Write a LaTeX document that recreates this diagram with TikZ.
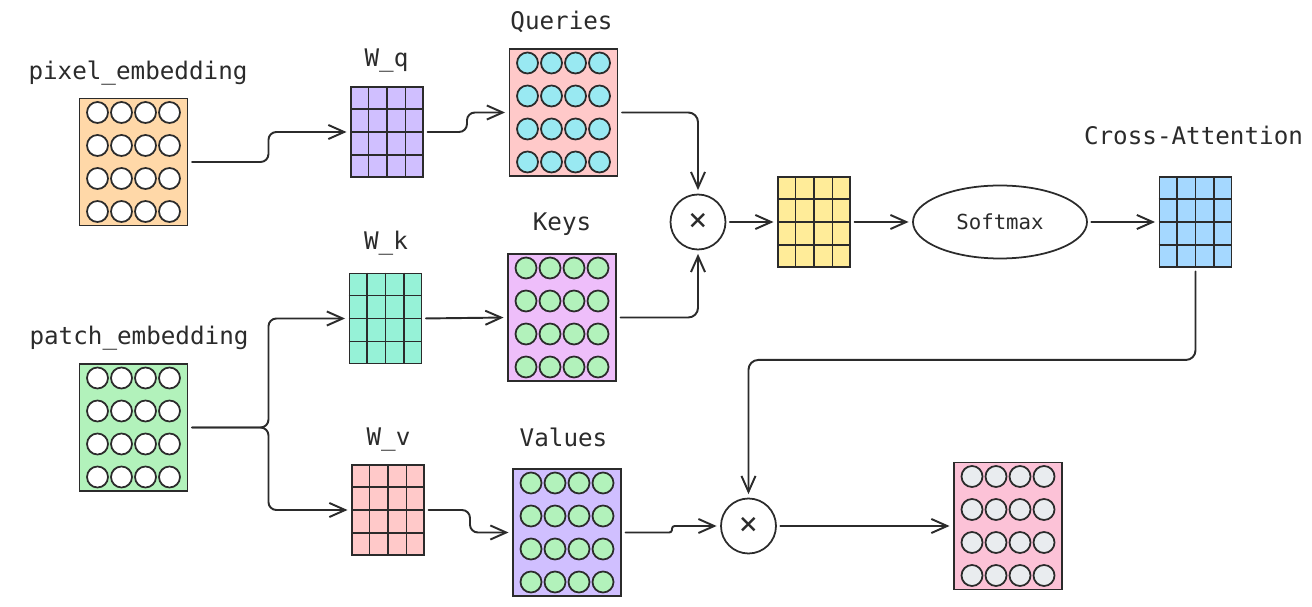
\documentclass[tikz,border=0pt]{standalone}
\usepackage{fontspec}
\setmonofont{DejaVu Sans Mono}
\usetikzlibrary{arrows.meta, positioning, calc, shapes.geometric}

\definecolor{ink}{HTML}{2B2B2B}
\definecolor{peach}{HTML}{FFD8A8}
\definecolor{mint}{HTML}{B2F2BB}
\definecolor{lilac}{HTML}{D0BFFF}
\definecolor{teal}{HTML}{96F2D7}
\definecolor{rose}{HTML}{FFC9C9}
\definecolor{cyan}{HTML}{99E9F2}
\definecolor{orchid}{HTML}{EEBEFA}
\definecolor{lemon}{HTML}{FFEC99}
\definecolor{sky}{HTML}{A5D8FF}
\definecolor{pinky}{HTML}{FCC2D7}
\definecolor{ash}{HTML}{E9ECEF}

% one pixel of the reference
\newlength{\px}
\setlength{\px}{0.02cm}

\tikzset{
  emb/.style={draw=ink, line width=1.1pt, minimum width=108\px, minimum height=127\px, inner sep=0pt},
  wmat/.style={draw=ink, line width=1.1pt, minimum width=72\px, minimum height=90\px, inner sep=0pt},
  dot/.style={draw=ink, line width=1pt},
  lbl/.style={font=\ttfamily\fontsize{13.8}{16}\selectfont, text=ink, inner sep=0pt, anchor=base},
  op/.style={circle, draw=ink, line width=1pt, minimum size=55\px, inner sep=0pt, font=\ttfamily\fontsize{18}{20}\selectfont, text=ink},
  arr/.style={draw=ink, line width=1.1pt, line cap=round, line join=round,
    -{Straight Barb[length=9pt,width=8pt,line width=1.1pt]}, shorten <=2pt, shorten >=2pt},
}

% 4x4 cells of a weight matrix
\newcommand{\cellgrid}[1]{%
  \foreach \i in {1,2,3} {
    \draw[ink, line width=1.1pt] ($(#1.north west)!\i/4!(#1.north east)$) -- ($(#1.south west)!\i/4!(#1.south east)$);
    \draw[ink, line width=1.1pt] ($(#1.north west)!\i/4!(#1.south west)$) -- ($(#1.north east)!\i/4!(#1.south east)$);
  }}
% 4x4 tokens of an embedding
\newcommand{\dotgrid}[2]{%
  \foreach \cx in {0,...,3}
    \foreach \ry in {0,...,3}
      \draw[dot, fill=#2] ($(#1.center)+({(\cx-1.5)*24},{(\ry-1.5)*33})$) circle[radius=10.5\px];}

\begin{document}
\begin{tikzpicture}[x=0.02cm, y=-0.02cm]
  \useasboundingbox (0,0) rectangle (1312,607);

  % inputs
  \node[emb, fill=peach] (pix) at (133.5,162) {};
  \node[emb, fill=mint] (patch) at (133.5,427.5) {};
  \dotgrid{pix}{white}
  \dotgrid{patch}{white}
  \node[lbl] (pixlbl) at (138,80) {pixel\_embedding};
  \node[lbl] (patchlbl) at (139,345) {patch\_embedding};

  % projection matrices
  \node[wmat, fill=lilac] (wq) at (387,132) {};
  \node[wmat, fill=teal] (wk) at (385.5,318.5) {};
  \node[wmat, fill=rose] (wv) at (388,510) {};
  \cellgrid{wq}
  \cellgrid{wk}
  \cellgrid{wv}
  \node[lbl] (wqlbl) at (386.5,67) {W\_q};
  \node[lbl] (wklbl) at (386,250) {W\_k};
  \node[lbl] (wvlbl) at (388.5,446) {W\_v};

  % queries, keys, values
  \node[emb, fill=rose] (q) at (563.5,112.5) {};
  \node[emb, fill=orchid] (k) at (562,317.5) {};
  \node[emb, fill=lilac] (v) at (567,532.5) {};
  \dotgrid{q}{cyan}
  \dotgrid{k}{mint}
  \dotgrid{v}{mint}
  \node[lbl] (qlbl) at (561.5,30) {Queries};
  \node[lbl] (klbl) at (562,231) {Keys};
  \node[lbl] (vlbl) at (563.5,447) {Values};

  % attention
  \node[op] (mul1) at (698,222) {×};
  \node[wmat, fill=lemon] (score) at (814,222) {};
  \cellgrid{score}
  \node[ellipse, draw=ink, line width=1pt, minimum width=174\px, minimum height=73\px,
    font=\ttfamily\fontsize{11.8}{14}\selectfont, text=ink] (soft) at (1000,222) {Softmax};
  \node[wmat, fill=sky] (ca) at (1195.5,222) {};
  \cellgrid{ca}
  \node[lbl] (calbl) at (1193.5,145) {Cross-Attention};

  % output
  \node[op] (mul2) at (748.5,526) {×};
  \node[emb, fill=pinky] (out) at (1008,526) {};
  \dotgrid{out}{ash}

  % connectors
  \draw[arr, rounded corners=4.5pt] (pix.east) -- ++(80,0) |- (wq.west);
  \draw[arr, rounded corners=4.5pt] (patch.east) -- ++(80,0) |- (wk.west);
  \draw[arr, rounded corners=4.5pt] (patch.east) -- ++(80,0) |- (wv.west);
  \draw[arr, rounded corners=4.5pt] (wq.east) -- ++(43,0) |- (q.west);
  \draw[arr] (wk.east) -- (k.west);
  \draw[arr, rounded corners=4.5pt] (wv.east) -- ++(45,0) |- (v.west);
  \draw[arr, rounded corners=5.5pt] (q.east) -| (mul1.north);
  \draw[arr, rounded corners=5.5pt] (k.east) -| (mul1.south);
  \draw[arr] (mul1.east) -- (score.west);
  \draw[arr] (score.east) -- (soft.west);
  \draw[arr] (soft.east) -- (ca.west);
  \draw[arr, rounded corners=5.5pt] (ca.south) -- ++(0,92) -| (mul2.north);
  \draw[arr, rounded corners=1.5pt] (v.east) -- ++(50,0) |- (mul2.west);
  \draw[arr] (mul2.east) -- (out.west);
\end{tikzpicture}
\end{document}
